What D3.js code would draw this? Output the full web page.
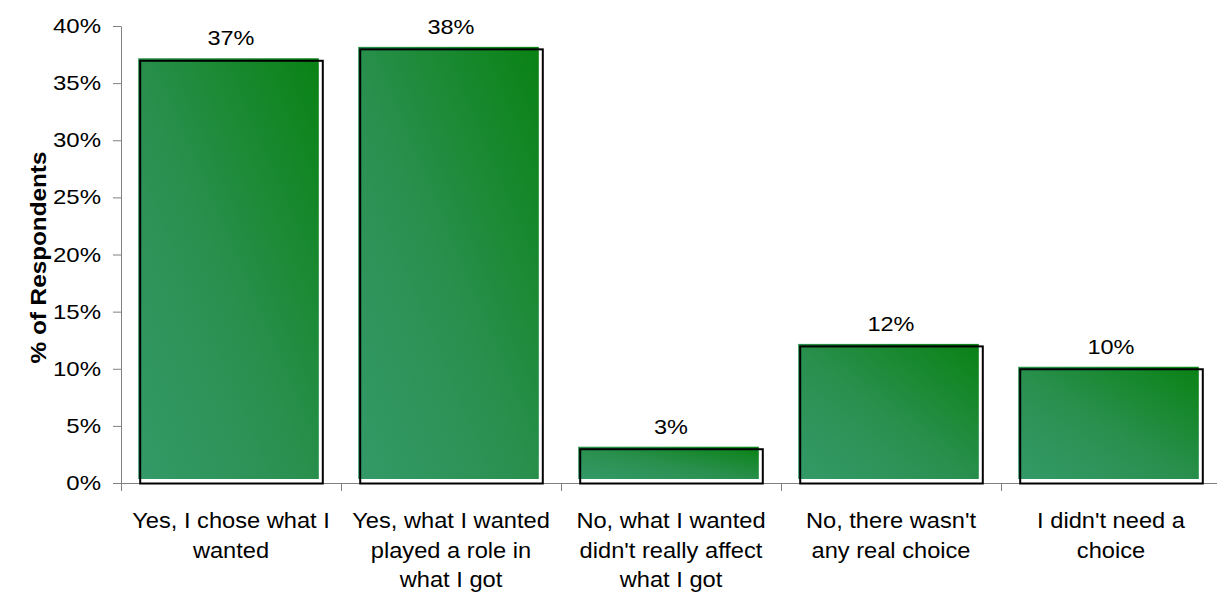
<!DOCTYPE html>
<html>
<head>
<meta charset="utf-8">
<script src="https://cdn.jsdelivr.net/npm/d3@7"></script>
<style>
  html, body { margin: 0; padding: 0; background: #fff; }
  svg { display: block; font-family: "Liberation Sans", Arial, sans-serif; }
</style>
</head>
<body>
<svg id="chart" width="1217" height="594"></svg>
<script>
// Survey answers and share of respondents
const categories = [
  ["Yes, I chose what I", "wanted"],
  ["Yes, what I wanted", "played a role in", "what I got"],
  ["No, what I wanted", "didn't really affect", "what I got"],
  ["No, there wasn't", "any real choice"],
  ["I didn't need a", "choice"]
];
const values = [0.37, 0.38, 0.03, 0.12, 0.10];
const yTicks = [0, 0.05, 0.10, 0.15, 0.20, 0.25, 0.30, 0.35, 0.40];
const yTitle = "% of Respondents";

const svg = d3.select("#chart");
const plotLeft = 121, plotRight = 1221, plotTop = 26, plotBottom = 483;
const pct = d3.format(".0%");

const keys = categories.map((c, i) => i);
const x = d3.scaleBand().domain(keys).range([plotLeft, plotRight]).paddingInner(0.17).paddingOuter(0.085);
const y = d3.scaleLinear().domain([0, 0.4]).range([plotBottom, plotTop]);

// Text drawn with a slight horizontal stretch (wide Arial-style lettering)
function label(g, px, py, str, size, sx, anchor, weight) {
  return g.append("text")
    .attr("transform", `translate(${px},${py}) scale(${sx},1)`)
    .attr("text-anchor", anchor)
    .attr("font-size", size)
    .attr("font-weight", weight || "normal")
    .attr("fill", "#000")
    .text(str);
}

// Diagonal gradient: lighter sea-green bottom-left to deep green top-right
const defs = svg.append("defs");
const grad = defs.append("linearGradient")
  .attr("id", "barFill")
  .attr("x1", "0%").attr("y1", "100%").attr("x2", "100%").attr("y2", "0%");
grad.append("stop").attr("offset", "0%").attr("stop-color", "#339a68");
grad.append("stop").attr("offset", "45%").attr("stop-color", "#2a9050");
grad.append("stop").attr("offset", "100%").attr("stop-color", "#0a8214");

// Y axis: line and ticks from d3.axisLeft, labels drawn separately
const yAxis = d3.axisLeft(y).tickValues(yTicks).tickFormat("").tickSize(8).tickSizeOuter(0);
const gy = svg.append("g").attr("transform", `translate(${plotLeft},0)`).call(yAxis);
gy.select(".domain").attr("stroke", "#808080");
gy.selectAll(".tick line").attr("stroke", "#808080");
const gyl = svg.append("g");
yTicks.forEach(t => label(gyl, plotLeft - 20, y(t) + 7, pct(t), 20, 1.2, "end"));

// X axis baseline with ticks at category boundaries
const xAxis = d3.axisBottom(x).tickSize(0).tickFormat("");
const gx = svg.append("g").attr("transform", `translate(0,${plotBottom})`).call(xAxis);
gx.select(".domain").attr("stroke", "#808080").attr("d", `M${plotLeft},0.5H1217`);
gx.selectAll(".tick").remove();
const bounds = keys.map(k => x(k) - x.step() * x.paddingInner() / 2);
bounds[0] = plotLeft;
gx.selectAll(".bound").data(bounds).enter().append("line")
  .attr("class", "bound")
  .attr("x1", d => Math.round(d) + 0.5).attr("x2", d => Math.round(d) + 0.5)
  .attr("y1", 0).attr("y2", 8)
  .attr("stroke", "#808080");

// Bars: gradient fill with an offset black frame
const bars = svg.append("g").selectAll("g").data(values).enter().append("g");
bars.append("rect")
  .attr("x", (d, i) => x(i) - 1.5)
  .attr("y", d => y(d) - 2)
  .attr("width", x.bandwidth() - 2)
  .attr("height", d => plotBottom - y(d) - 2)
  .attr("fill", "url(#barFill)");
bars.append("rect")
  .attr("x", (d, i) => x(i) + 0.5)
  .attr("y", d => y(d) + 0.5)
  .attr("width", x.bandwidth())
  .attr("height", d => plotBottom - y(d))
  .attr("fill", "none")
  .attr("stroke", "#000")
  .attr("stroke-width", 2);

// Value labels above bars
const gv = svg.append("g");
values.forEach((v, i) => label(gv, x(i) + x.bandwidth() / 2, y(v) - 15, pct(v), 21, 1.12, "middle"));

// Category labels (multi-line)
const gc = svg.append("g");
categories.forEach((lines, i) => {
  lines.forEach((ln, j) => label(gc, x(i) + x.bandwidth() / 2, 528 + j * 29.5, ln, 21.5, 1.1, "middle"));
});

// Y axis title
svg.append("text")
  .attr("transform", `translate(46,${(plotTop + plotBottom) / 2 + 3}) rotate(-90) scale(1.13,1)`)
  .attr("text-anchor", "middle")
  .attr("font-size", 21.5)
  .attr("font-weight", "bold")
  .text(yTitle);
</script>
</body>
</html>
